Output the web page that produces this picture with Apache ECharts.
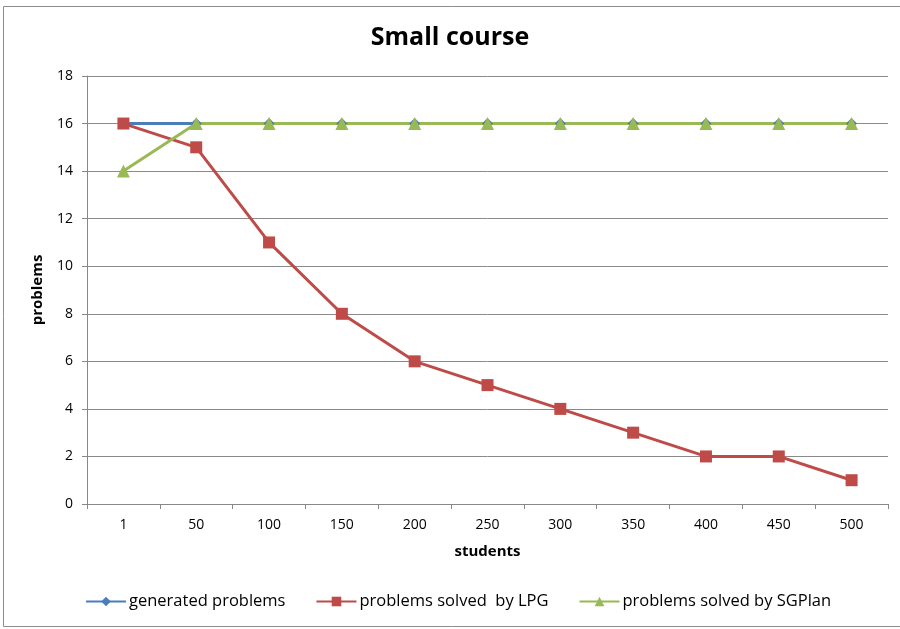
<!DOCTYPE html>
<html><head><meta charset="utf-8">
<script src="https://cdn.jsdelivr.net/npm/echarts@6/dist/echarts.min.js"></script>
<style>html,body{margin:0;padding:0;background:#fff}#c{width:900px;height:629px}</style>
</head><body><div id="c"></div>
<script>
const categories = ['1','50','100','150','200','250','300','350','400','450','500'];
const generated = [16,16,16,16,16,16,16,16,16,16,16];
const lpg = [16,15,11,8,6,5,4,3,2,2,1];
const sgplan = [14,16,16,16,16,16,16,16,16,16,16];
const seriesNames = ['generated problems','problems solved  by LPG','problems solved by SGPlan'];
const font = '"Open Sans", "Liberation Sans", sans-serif';
const chart = echarts.init(document.getElementById('c'));
chart.setOption({
  backgroundColor: '#fff',
  animation: false,
  graphic: [{type:'rect', shape:{x:3.5,y:6.5,width:900,height:620}, style:{fill:'none', stroke:'#8c8c8c', lineWidth:1}}],
  title: {text:'Small course', left:'center', top:20, textStyle:{fontFamily:font, fontSize:25, fontWeight:'bold', color:'#000'}},
  legend: {
    bottom: 14, left: 80, itemWidth: 40, itemHeight: 12, itemGap: 30,
    textStyle:{fontFamily:font, fontSize:16.5, color:'#000', padding:[0,0,0,-2]},
    data: seriesNames
  },
  grid: {left:87, right:12, top:76, bottom:125},
  xAxis: {
    type:'category', data:categories, boundaryGap:true,
    name:'students', nameLocation:'middle', nameGap:40,
    nameTextStyle:{fontFamily:font, fontSize:15, fontWeight:'bold', color:'#000'},
    axisLine:{lineStyle:{color:'#888'}},
    axisTick:{show:true, length:5, alignWithLabel:false, lineStyle:{color:'#888'}},
    axisLabel:{fontFamily:font, fontSize:14, color:'#000', margin:14}
  },
  yAxis: {
    type:'value', min:0, max:18, interval:2,
    name:'problems', nameLocation:'middle', nameGap:42, nameRotate:90,
    nameTextStyle:{fontFamily:font, fontSize:15, fontWeight:'bold', color:'#000'},
    axisLine:{show:true, lineStyle:{color:'#888'}},
    axisTick:{show:true, length:5, lineStyle:{color:'#888'}},
    axisLabel:{fontFamily:font, fontSize:14, color:'#000', margin:14},
    splitLine:{lineStyle:{color:'#8a8a8a', width:1}}
  },
  series: [
    {name:seriesNames[0], type:'line', data:generated, symbol:'diamond', symbolSize:11,
     itemStyle:{color:'#4A7EBB'}, lineStyle:{width:3, color:'#4A7EBB'}},
    {name:seriesNames[1], type:'line', data:lpg, symbol:'rect', symbolSize:12,
     itemStyle:{color:'#BE4B48'}, lineStyle:{width:3, color:'#BE4B48'}},
    {name:seriesNames[2], type:'line', data:sgplan, symbol:'triangle', symbolSize:13,
     itemStyle:{color:'#98B954'}, lineStyle:{width:3, color:'#98B954'}}
  ]
});
</script></body></html>
